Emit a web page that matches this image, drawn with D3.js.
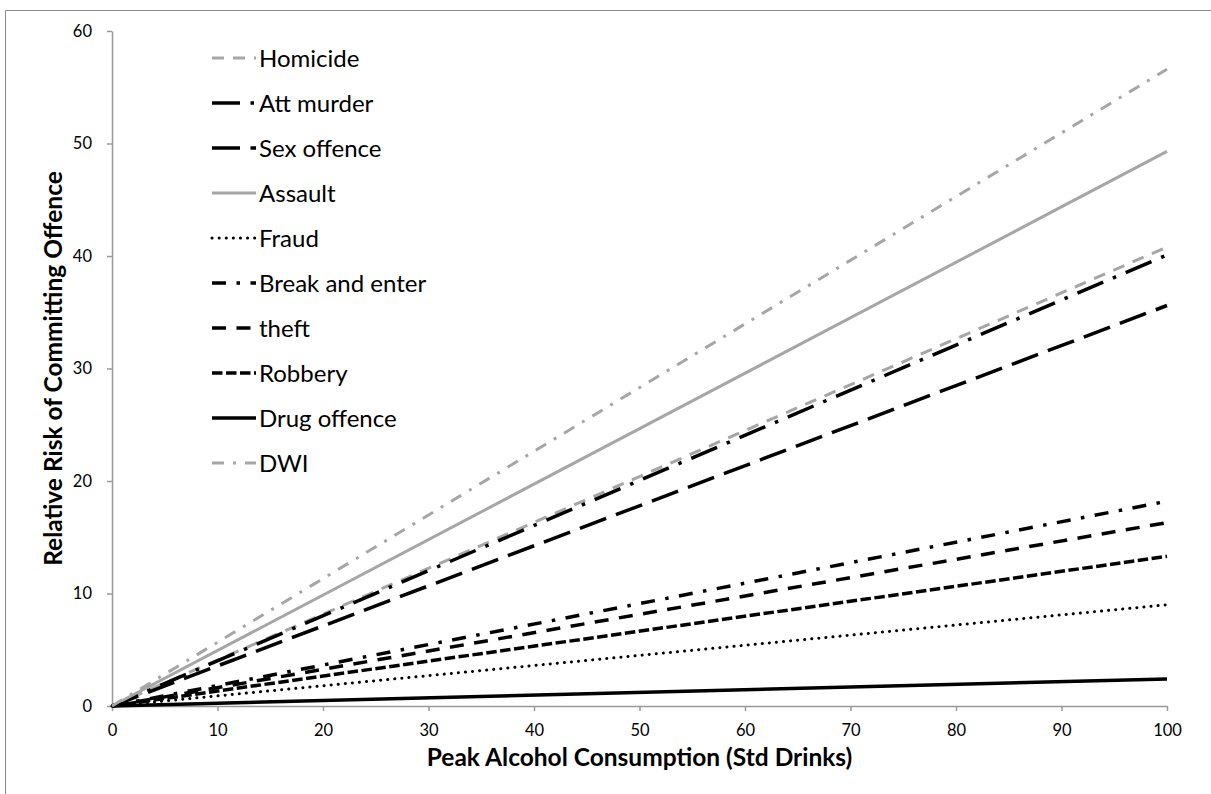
<!DOCTYPE html>
<html>
<head>
<meta charset="utf-8">
<script src="https://cdn.jsdelivr.net/npm/d3@7"></script>
<style>
  html, body { margin: 0; padding: 0; background: #fff; }
  svg { display: block; }
  text { font-family: Lato, "Open Sans", "DejaVu Sans", sans-serif; fill: #000; }
</style>
</head>
<body>
<svg id="chart" width="1211" height="794"></svg>
<script>
// ---- data ----
const xValues = [0, 100];
const seriesNames = ["Homicide", "Att murder", "Sex offence", "Assault", "Fraud",
                     "Break and enter", "theft", "Robbery", "Drug offence", "DWI"];
const homicide      = [0, 40.8];
const attMurder     = [0, 40.1];
const sexOffence    = [0, 35.6];
const assault       = [0, 49.3];
const fraud         = [0, 9.0];
const breakAndEnter = [0, 18.2];
const theft         = [0, 16.3];
const robbery       = [0, 13.3];
const drugOffence   = [0, 2.4];
const dwi           = [0, 56.6];
const xTicks = [0, 10, 20, 30, 40, 50, 60, 70, 80, 90, 100];
const yTicks = [0, 10, 20, 30, 40, 50, 60];
const xTitle = "Peak Alcohol Consumption (Std Drinks)";
const yTitle = "Relative Risk of Committing Offence";

// ---- styles ----
const GRAY = "#a6a6a6";
const styles = {
  "Homicide":        {color: GRAY,   width: 3,   dash: "12 9"},
  "Att murder":      {color: "#000", width: 3.5, dash: "28 10.5 3.5 10.5"},
  "Sex offence":     {color: "#000", width: 3.5, dash: "28 10.5"},
  "Assault":         {color: GRAY,   width: 3,   dash: null},
  "Fraud":           {color: "#000", width: 3,   dash: "0.1 7", cap: "round"},
  "Break and enter": {color: "#000", width: 3.5, dash: "14 10.5 3.5 10.5"},
  "theft":           {color: "#000", width: 3.5, dash: "14 10.5"},
  "Robbery":         {color: "#000", width: 3.5, dash: "10.5 3.5"},
  "Drug offence":    {color: "#000", width: 3.5, dash: null},
  "DWI":             {color: GRAY,   width: 3,   dash: "12 9 3 9"}
};
const seriesValues = [homicide, attMurder, sexOffence, assault, fraud,
                      breakAndEnter, theft, robbery, drugOffence, dwi];

const svg = d3.select("#chart");

// outer frame
svg.append("rect").attr("x", 5.5).attr("y", 10.5).attr("width", 1400).attr("height", 1000)
  .attr("fill", "none").attr("stroke", "#8c8c8c").attr("stroke-width", 1);

const x = d3.scaleLinear().domain([0, 100]).range([112, 1167]);
const y = d3.scaleLinear().domain([0, 60]).range([706, 31]);

// axes
const xAxis = svg.append("g").attr("transform", `translate(0,${y(0)})`)
  .call(d3.axisBottom(x).tickValues(xTicks).tickSize(5).tickSizeOuter(0).tickPadding(13));
const yAxis = svg.append("g").attr("transform", `translate(${x(0)},0)`)
  .call(d3.axisLeft(y).tickValues(yTicks).tickSize(5).tickSizeOuter(0).tickPadding(15));
[xAxis, yAxis].forEach(a => {
  a.selectAll("path, line").attr("stroke", "#999").attr("stroke-width", 1.5);
  a.selectAll("text").attr("font-size", 16.5).attr("fill", "#000")
    .style("font-family", "Lato, 'Open Sans', sans-serif");
});

// lines
const line = d3.line().x((d, i) => x(xValues[i])).y(d => y(d));
seriesNames.forEach((name, k) => {
  const s = styles[name];
  svg.append("path").datum(seriesValues[k])
    .attr("d", line).attr("fill", "none")
    .attr("stroke", s.color).attr("stroke-width", s.width)
    .attr("stroke-dasharray", s.dash)
    .attr("stroke-linecap", s.cap || "butt");
});

// legend
const legend = svg.append("g");
seriesNames.forEach((name, k) => {
  const s = styles[name];
  const cy = 58 + k * 45;
  legend.append("line").attr("x1", 212).attr("x2", 256).attr("y1", cy).attr("y2", cy)
    .attr("stroke", s.color).attr("stroke-width", s.width)
    .attr("stroke-dasharray", s.dash)
    .attr("stroke-linecap", s.cap || "butt");
  legend.append("text").attr("x", 259).attr("y", cy).attr("dy", "0.36em")
    .attr("font-size", 24).text(name);
});

// titles
svg.append("text").attr("x", (x(0) + x(100)) / 2).attr("y", 766)
  .attr("text-anchor", "middle").attr("font-size", 24.5).attr("font-weight", "bold").text(xTitle);
svg.append("text").attr("transform", `translate(62,${(y(0) + y(60)) / 2}) rotate(-90)`)
  .attr("text-anchor", "middle").attr("font-size", 24.5).attr("font-weight", "bold").text(yTitle);
</script>
</body>
</html>
